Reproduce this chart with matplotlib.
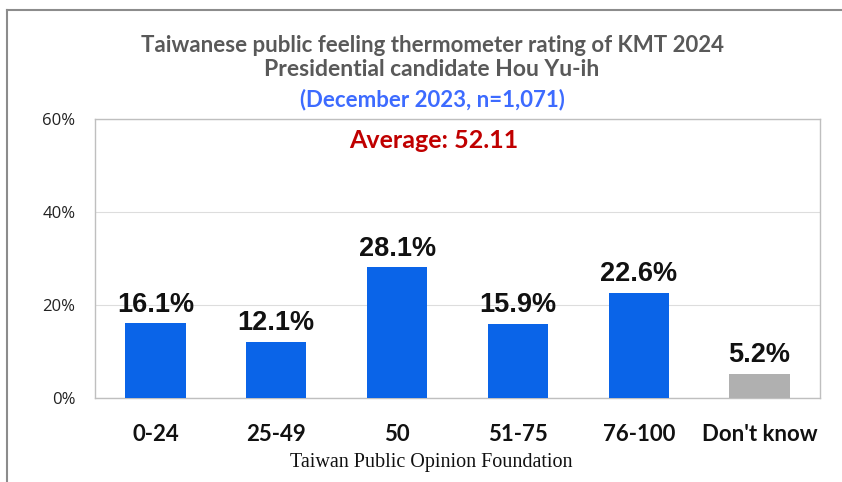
import matplotlib.pyplot as plt
from matplotlib.lines import Line2D

categories = ["0-24", "25-49", "50", "51-75", "76-100", "Don't know"]
values = [16.1, 12.1, 28.1, 15.9, 22.6, 5.2]
colors = ["#0A64E8"] * 5 + ["#B0B0B0"]
y_ticks = [0, 20, 40, 60]

fig = plt.figure(figsize=(8.42, 4.82), dpi=100)
ax = fig.add_axes([95 / 842, 1 - 398 / 482, 725 / 842, 279 / 482])

x = range(len(categories))
ax.bar(x, values, width=0.5, color=colors, zorder=3)
ax.set_xlim(-0.5, len(categories) - 0.5)
ax.set_ylim(0, 60)
ax.set_yticks(y_ticks)
ax.set_yticklabels([f"{v}%" for v in y_ticks], fontfamily="Open Sans",
                   fontsize=12, color="#222222")
ax.set_xticks(list(x))
ax.set_xticklabels(categories, fontfamily="Lato", fontweight="bold",
                   fontsize=16, color="#111111")
ax.tick_params(axis="y", length=0, pad=14)
ax.tick_params(axis="x", length=0, pad=19)
ax.grid(axis="y", color="#DDDDDD", linewidth=0.8, zorder=0)
for s in ax.spines.values():
    s.set_color("#BFBFBF")
    s.set_linewidth(1)

for i, v in enumerate(values):
    ax.text(i, v + 1.2, f"{v:.1f}%", ha="center", va="bottom",
            fontfamily="Liberation Sans", fontweight="bold", fontsize=19.5,
            color="#111111")

fig.text(432 / 842, 1 - 45 / 482, "Taiwanese public feeling thermometer rating of KMT 2024",
         ha="center", va="center", fontfamily="Lato", fontweight="bold",
         fontsize=16, color="#595959")
fig.text(432 / 842, 1 - 70 / 482, "Presidential candidate Hou Yu-ih",
         ha="center", va="center", fontfamily="Lato", fontweight="bold",
         fontsize=16.5, color="#595959")
fig.text(432 / 842, 1 - 100 / 482, "(December 2023, n=1,071)",
         ha="center", va="center", fontfamily="Lato", fontweight="bold",
         fontsize=16, color="#3D6BFF")
fig.text(434 / 842, 1 - 140 / 482, "Average: 52.11",
         ha="center", va="center", fontfamily="Lato", fontweight="bold",
         fontsize=18, color="#C00000")
fig.text(431 / 842, 1 - 463 / 482, "Taiwan Public Opinion Foundation",
         ha="center", va="center", fontfamily="Liberation Serif",
         fontsize=14.5, color="#111111")

# outer frame
fig.add_artist(Line2D([7 / 842, 7 / 842], [0, 1 - 10 / 482],
                      transform=fig.transFigure, color="#8C8C8C", linewidth=1.5))
fig.add_artist(Line2D([7 / 842, 1], [1 - 10 / 482, 1 - 10 / 482],
                      transform=fig.transFigure, color="#8C8C8C", linewidth=1.5))

fig.savefig("out.png", dpi=100)
